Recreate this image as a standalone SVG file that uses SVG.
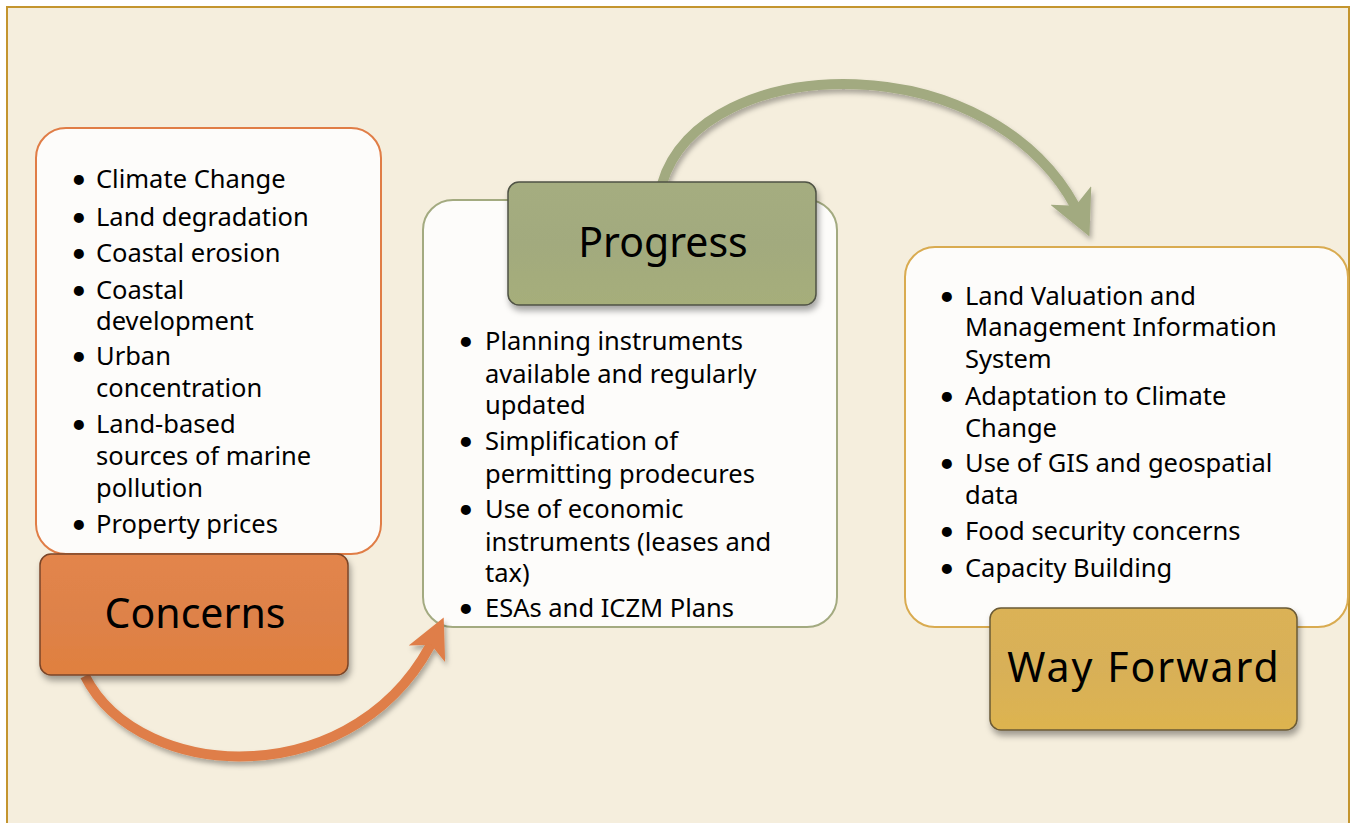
<svg xmlns="http://www.w3.org/2000/svg" width="1355" height="823" viewBox="0 0 1355 823">
<defs>
<filter id="sh" x="-20%" y="-20%" width="140%" height="150%">
<feDropShadow dx="2" dy="5" stdDeviation="3" flood-color="#000" flood-opacity="0.35"/>
</filter>
<filter id="ash" x="-20%" y="-20%" width="140%" height="140%">
<feDropShadow dx="2" dy="4" stdDeviation="2.5" flood-color="#000" flood-opacity="0.3"/>
</filter>
<marker id="mo" viewBox="0 0 10 10" refX="6" refY="5" markerWidth="4" markerHeight="4" orient="auto" markerUnits="strokeWidth">
<path d="M0,0 L10,5 L0,10 L2.5,5 Z" fill="#DF7E48"/>
</marker>
<marker id="mg" viewBox="0 0 10 10" refX="6" refY="5" markerWidth="4.5" markerHeight="4.5" orient="auto" markerUnits="strokeWidth">
<path d="M0,0 L10,5 L0,10 L2.5,5 Z" fill="#A2AA80"/>
</marker>
<linearGradient id="gO" x1="0" y1="0" x2="0" y2="1">
<stop offset="0" stop-color="#E3854C"/><stop offset="0.5" stop-color="#DE8249"/><stop offset="1" stop-color="#E0803F"/>
</linearGradient>
<linearGradient id="gG" x1="0" y1="0" x2="0" y2="1">
<stop offset="0" stop-color="#A5AD80"/><stop offset="0.5" stop-color="#A2AA7E"/><stop offset="1" stop-color="#A6AE7A"/>
</linearGradient>
<linearGradient id="gY" x1="0" y1="0" x2="0" y2="1">
<stop offset="0" stop-color="#DBB257"/><stop offset="0.5" stop-color="#D8B058"/><stop offset="1" stop-color="#DDB44F"/>
</linearGradient>
</defs>
<style>
.list { fill:#FDFCFA; stroke-width:2; }
.btn { stroke-width:1.5; }
.t { font-family:"Noto Sans","Lato",sans-serif; font-size:25.5px; fill:#000; }
.b { font-family:"Lato","Noto Sans",sans-serif; font-size:27px; fill:#000; }
.h { font-family:"Noto Sans","Lato",sans-serif; font-size:41px; fill:#000; text-anchor:middle; }
.arrow { fill:none; stroke-width:10; }
</style>
<rect x="0" y="0" width="1355" height="823" fill="#FFFFFF"/>
<rect x="7" y="7" width="1342" height="830" fill="#F5EEDD" stroke="#C4952E" stroke-width="2"/>

<g id="concerns-list">
<rect class="list" x="36" y="128" width="345" height="426" rx="30" stroke="#E07D46"/>
<g class="b">
<text x="71" y="188">•</text><text x="71" y="226">•</text><text x="71" y="262">•</text><text x="71" y="299">•</text>
<text x="71" y="365">•</text><text x="71" y="433">•</text><text x="71" y="533">•</text>
</g>
<g class="t">
<text x="96" y="188">Climate Change</text>
<text x="96" y="226">Land degradation</text>
<text x="96" y="262">Coastal erosion</text>
<text x="96" y="299">Coastal</text>
<text x="96" y="330">development</text>
<text x="96" y="365">Urban</text>
<text x="96" y="397">concentration</text>
<text x="96" y="433">Land-based</text>
<text x="96" y="465">sources of marine</text>
<text x="96" y="497">pollution</text>
<text x="96" y="533">Property prices</text>
</g>
</g>

<g id="progress-list">
<rect class="list" x="423" y="200" width="414" height="427" rx="30" stroke="#A3AA80"/>
<g class="b">
<text x="458" y="350">•</text><text x="458" y="450">•</text><text x="458" y="518">•</text><text x="458" y="617">•</text>
</g>
<g class="t">
<text x="485" y="350">Planning instruments</text>
<text x="485" y="383">available and regularly</text>
<text x="485" y="414">updated</text>
<text x="485" y="450">Simplification of</text>
<text x="485" y="483">permitting prodecures</text>
<text x="485" y="518">Use of economic</text>
<text x="485" y="551">instruments (leases and</text>
<text x="485" y="582">tax)</text>
<text x="485" y="617">ESAs and ICZM Plans</text>
</g>
</g>

<g id="wayforward-list">
<rect class="list" x="905" y="247" width="443" height="380" rx="30" stroke="#D9AB50"/>
<g class="b">
<text x="939" y="305">•</text><text x="939" y="405">•</text><text x="939" y="472">•</text><text x="939" y="540">•</text><text x="939" y="577">•</text>
</g>
<g class="t">
<text x="965" y="305">Land Valuation and</text>
<text x="965" y="336">Management Information</text>
<text x="965" y="368">System</text>
<text x="965" y="405">Adaptation to Climate</text>
<text x="965" y="437">Change</text>
<text x="965" y="472">Use of GIS and geospatial</text>
<text x="965" y="504">data</text>
<text x="965" y="540">Food security concerns</text>
<text x="965" y="577">Capacity Building</text>
</g>
</g>

<g id="connectors">
<path class="arrow" filter="url(#ash)" d="M85,676 C140,785 362,795 437,632" stroke="#DF7E48" marker-end="url(#mo)"/>
<path class="arrow" filter="url(#ash)" d="M662,184 C700,50 1000,40 1082,220" stroke="#A2AA80" stroke-width="9" marker-end="url(#mg)"/>
</g>

<g id="concerns">
<rect class="btn" x="40" y="554" width="308" height="121" rx="11" fill="url(#gO)" stroke="#7A4428" filter="url(#sh)"/>
<text class="h" x="195" y="628">Concerns</text>
</g>

<g id="progress">
<rect class="btn" x="508" y="182" width="308" height="123" rx="11" fill="url(#gG)" stroke="#4F5244" filter="url(#sh)"/>
<text class="h" x="663" y="257">Progress</text>
</g>

<g id="wayforward">
<rect class="btn" x="990" y="608" width="307" height="122" rx="11" fill="url(#gY)" stroke="#6A5A34" filter="url(#sh)"/>
<text class="h" x="1144" y="682" letter-spacing="2">Way Forward</text>
</g>
</svg>
